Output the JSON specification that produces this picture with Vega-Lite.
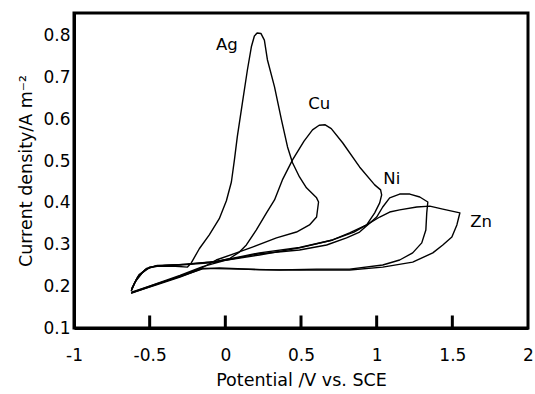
{
  "$schema": "https://vega.github.io/schema/vega-lite/v6.json",
  "autosize": "none",
  "width": 454,
  "height": 315,
  "padding": {"left": 74, "top": 13, "right": 7, "bottom": 66},
  "background": "white",
  "config": {
    "view": {"stroke": "black", "strokeWidth": 3},
    "font": "DejaVu Sans",
    "axis": {"domainColor": "black", "domainWidth": 3, "grid": false, "labelColor": "black", "titleColor": "black", "labelFont": "DejaVu Sans", "titleFont": "DejaVu Sans", "labelFontSize": 17, "titleFontSize": 17.5, "titleFontWeight": "normal"}
  },
  "datasets": {
    "cv": [
      {"m": "Ag", "i": 1, "V": -0.623, "I": 0.188},
      {"m": "Ag", "i": 2, "V": -0.6, "I": 0.208},
      {"m": "Ag", "i": 3, "V": -0.55, "I": 0.232},
      {"m": "Ag", "i": 4, "V": -0.5, "I": 0.245},
      {"m": "Ag", "i": 5, "V": -0.45, "I": 0.248},
      {"m": "Ag", "i": 6, "V": -0.33, "I": 0.248},
      {"m": "Ag", "i": 7, "V": -0.25, "I": 0.246},
      {"m": "Ag", "i": 8, "V": -0.225, "I": 0.256},
      {"m": "Ag", "i": 9, "V": -0.172, "I": 0.29},
      {"m": "Ag", "i": 10, "V": -0.106, "I": 0.323},
      {"m": "Ag", "i": 11, "V": -0.04, "I": 0.362},
      {"m": "Ag", "i": 12, "V": 0.007, "I": 0.405},
      {"m": "Ag", "i": 13, "V": 0.04, "I": 0.45},
      {"m": "Ag", "i": 14, "V": 0.06, "I": 0.503},
      {"m": "Ag", "i": 15, "V": 0.079, "I": 0.558},
      {"m": "Ag", "i": 16, "V": 0.113, "I": 0.64},
      {"m": "Ag", "i": 17, "V": 0.146, "I": 0.719},
      {"m": "Ag", "i": 18, "V": 0.172, "I": 0.774},
      {"m": "Ag", "i": 19, "V": 0.192, "I": 0.8},
      {"m": "Ag", "i": 20, "V": 0.21, "I": 0.807},
      {"m": "Ag", "i": 21, "V": 0.235, "I": 0.806},
      {"m": "Ag", "i": 22, "V": 0.258, "I": 0.79},
      {"m": "Ag", "i": 23, "V": 0.278, "I": 0.743},
      {"m": "Ag", "i": 24, "V": 0.325, "I": 0.678},
      {"m": "Ag", "i": 25, "V": 0.371, "I": 0.599},
      {"m": "Ag", "i": 26, "V": 0.411, "I": 0.534},
      {"m": "Ag", "i": 27, "V": 0.444, "I": 0.496},
      {"m": "Ag", "i": 28, "V": 0.49, "I": 0.462},
      {"m": "Ag", "i": 29, "V": 0.536, "I": 0.436},
      {"m": "Ag", "i": 30, "V": 0.603, "I": 0.412},
      {"m": "Ag", "i": 31, "V": 0.616, "I": 0.402},
      {"m": "Ag", "i": 32, "V": 0.603, "I": 0.366},
      {"m": "Ag", "i": 33, "V": 0.556, "I": 0.347},
      {"m": "Ag", "i": 34, "V": 0.47, "I": 0.33},
      {"m": "Ag", "i": 35, "V": 0.338, "I": 0.316},
      {"m": "Ag", "i": 36, "V": 0.179, "I": 0.294},
      {"m": "Ag", "i": 37, "V": 0.073, "I": 0.28},
      {"m": "Ag", "i": 38, "V": -0.06, "I": 0.263},
      {"m": "Ag", "i": 39, "V": -0.15, "I": 0.245},
      {"m": "Ag", "i": 40, "V": -0.3, "I": 0.224},
      {"m": "Ag", "i": 41, "V": -0.45, "I": 0.205},
      {"m": "Ag", "i": 42, "V": -0.6, "I": 0.186},
      {"m": "Ag", "i": 43, "V": -0.623, "I": 0.183},

      {"m": "Cu", "i": 1, "V": -0.62, "I": 0.19},
      {"m": "Cu", "i": 2, "V": -0.59, "I": 0.215},
      {"m": "Cu", "i": 3, "V": -0.53, "I": 0.24},
      {"m": "Cu", "i": 4, "V": -0.46, "I": 0.249},
      {"m": "Cu", "i": 5, "V": -0.3, "I": 0.251},
      {"m": "Cu", "i": 6, "V": -0.1, "I": 0.256},
      {"m": "Cu", "i": 7, "V": 0.026, "I": 0.266},
      {"m": "Cu", "i": 8, "V": 0.093, "I": 0.282},
      {"m": "Cu", "i": 9, "V": 0.139, "I": 0.299},
      {"m": "Cu", "i": 10, "V": 0.205, "I": 0.335},
      {"m": "Cu", "i": 11, "V": 0.272, "I": 0.376},
      {"m": "Cu", "i": 12, "V": 0.325, "I": 0.407},
      {"m": "Cu", "i": 13, "V": 0.377, "I": 0.455},
      {"m": "Cu", "i": 14, "V": 0.444, "I": 0.503},
      {"m": "Cu", "i": 15, "V": 0.52, "I": 0.548},
      {"m": "Cu", "i": 16, "V": 0.576, "I": 0.575},
      {"m": "Cu", "i": 17, "V": 0.62, "I": 0.586},
      {"m": "Cu", "i": 18, "V": 0.66, "I": 0.587},
      {"m": "Cu", "i": 19, "V": 0.7, "I": 0.578},
      {"m": "Cu", "i": 20, "V": 0.775, "I": 0.544},
      {"m": "Cu", "i": 21, "V": 0.887, "I": 0.486},
      {"m": "Cu", "i": 22, "V": 0.987, "I": 0.443},
      {"m": "Cu", "i": 23, "V": 1.026, "I": 0.431},
      {"m": "Cu", "i": 24, "V": 1.033, "I": 0.419},
      {"m": "Cu", "i": 25, "V": 1.02, "I": 0.4},
      {"m": "Cu", "i": 26, "V": 0.987, "I": 0.376},
      {"m": "Cu", "i": 27, "V": 0.934, "I": 0.347},
      {"m": "Cu", "i": 28, "V": 0.821, "I": 0.328},
      {"m": "Cu", "i": 29, "V": 0.709, "I": 0.311},
      {"m": "Cu", "i": 30, "V": 0.49, "I": 0.292},
      {"m": "Cu", "i": 31, "V": 0.225, "I": 0.275},
      {"m": "Cu", "i": 32, "V": 0.0, "I": 0.262},
      {"m": "Cu", "i": 33, "V": -0.15, "I": 0.247},
      {"m": "Cu", "i": 34, "V": -0.3, "I": 0.226},
      {"m": "Cu", "i": 35, "V": -0.45, "I": 0.207},
      {"m": "Cu", "i": 36, "V": -0.62, "I": 0.185},

      {"m": "Ni", "i": 1, "V": -0.62, "I": 0.192},
      {"m": "Ni", "i": 2, "V": -0.58, "I": 0.222},
      {"m": "Ni", "i": 3, "V": -0.52, "I": 0.243},
      {"m": "Ni", "i": 4, "V": -0.45, "I": 0.25},
      {"m": "Ni", "i": 5, "V": -0.3, "I": 0.252},
      {"m": "Ni", "i": 6, "V": -0.1, "I": 0.258},
      {"m": "Ni", "i": 7, "V": 0.007, "I": 0.263},
      {"m": "Ni", "i": 8, "V": 0.225, "I": 0.278},
      {"m": "Ni", "i": 9, "V": 0.49, "I": 0.287},
      {"m": "Ni", "i": 10, "V": 0.669, "I": 0.299},
      {"m": "Ni", "i": 11, "V": 0.801, "I": 0.316},
      {"m": "Ni", "i": 12, "V": 0.887, "I": 0.33},
      {"m": "Ni", "i": 13, "V": 0.94, "I": 0.347},
      {"m": "Ni", "i": 14, "V": 1.0, "I": 0.366},
      {"m": "Ni", "i": 15, "V": 1.04, "I": 0.39},
      {"m": "Ni", "i": 16, "V": 1.086, "I": 0.412},
      {"m": "Ni", "i": 17, "V": 1.152, "I": 0.421},
      {"m": "Ni", "i": 18, "V": 1.219, "I": 0.421},
      {"m": "Ni", "i": 19, "V": 1.285, "I": 0.414},
      {"m": "Ni", "i": 20, "V": 1.338, "I": 0.402},
      {"m": "Ni", "i": 21, "V": 1.331, "I": 0.376},
      {"m": "Ni", "i": 22, "V": 1.325, "I": 0.335},
      {"m": "Ni", "i": 23, "V": 1.298, "I": 0.304},
      {"m": "Ni", "i": 24, "V": 1.238, "I": 0.28},
      {"m": "Ni", "i": 25, "V": 1.152, "I": 0.263},
      {"m": "Ni", "i": 26, "V": 1.04, "I": 0.251},
      {"m": "Ni", "i": 27, "V": 0.821, "I": 0.241},
      {"m": "Ni", "i": 28, "V": 0.603, "I": 0.241},
      {"m": "Ni", "i": 29, "V": 0.358, "I": 0.239},
      {"m": "Ni", "i": 30, "V": 0.093, "I": 0.241},
      {"m": "Ni", "i": 31, "V": -0.15, "I": 0.243},
      {"m": "Ni", "i": 32, "V": -0.3, "I": 0.222},
      {"m": "Ni", "i": 33, "V": -0.45, "I": 0.204},
      {"m": "Ni", "i": 34, "V": -0.62, "I": 0.184},

      {"m": "Zn", "i": 1, "V": -0.62, "I": 0.194},
      {"m": "Zn", "i": 2, "V": -0.57, "I": 0.228},
      {"m": "Zn", "i": 3, "V": -0.5, "I": 0.246},
      {"m": "Zn", "i": 4, "V": -0.4, "I": 0.25},
      {"m": "Zn", "i": 5, "V": -0.25, "I": 0.253},
      {"m": "Zn", "i": 6, "V": -0.05, "I": 0.26},
      {"m": "Zn", "i": 7, "V": 0.225, "I": 0.28},
      {"m": "Zn", "i": 8, "V": 0.49, "I": 0.293},
      {"m": "Zn", "i": 9, "V": 0.709, "I": 0.311},
      {"m": "Zn", "i": 10, "V": 0.85, "I": 0.33},
      {"m": "Zn", "i": 11, "V": 0.934, "I": 0.347},
      {"m": "Zn", "i": 12, "V": 1.02, "I": 0.366},
      {"m": "Zn", "i": 13, "V": 1.086, "I": 0.378},
      {"m": "Zn", "i": 14, "V": 1.152, "I": 0.383},
      {"m": "Zn", "i": 15, "V": 1.265, "I": 0.39},
      {"m": "Zn", "i": 16, "V": 1.351, "I": 0.392},
      {"m": "Zn", "i": 17, "V": 1.437, "I": 0.385},
      {"m": "Zn", "i": 18, "V": 1.55, "I": 0.376},
      {"m": "Zn", "i": 19, "V": 1.543, "I": 0.366},
      {"m": "Zn", "i": 20, "V": 1.53, "I": 0.347},
      {"m": "Zn", "i": 21, "V": 1.497, "I": 0.318},
      {"m": "Zn", "i": 22, "V": 1.437, "I": 0.299},
      {"m": "Zn", "i": 23, "V": 1.371, "I": 0.28},
      {"m": "Zn", "i": 24, "V": 1.238, "I": 0.258},
      {"m": "Zn", "i": 25, "V": 1.04, "I": 0.246},
      {"m": "Zn", "i": 26, "V": 0.821, "I": 0.239},
      {"m": "Zn", "i": 27, "V": 0.49, "I": 0.239},
      {"m": "Zn", "i": 28, "V": 0.225, "I": 0.24},
      {"m": "Zn", "i": 29, "V": -0.04, "I": 0.244},
      {"m": "Zn", "i": 30, "V": -0.15, "I": 0.242},
      {"m": "Zn", "i": 31, "V": -0.3, "I": 0.223},
      {"m": "Zn", "i": 32, "V": -0.45, "I": 0.206},
      {"m": "Zn", "i": 33, "V": -0.62, "I": 0.186}
    ],
    "labels": [
      {"t": "Ag", "V": 0.01, "I": 0.779},
      {"t": "Cu", "V": 0.62, "I": 0.637},
      {"t": "Ni", "V": 1.1, "I": 0.458},
      {"t": "Zn", "V": 1.69, "I": 0.354}
    ],
    "ticks": [
      {"V": -0.5, "y0": 0.1, "y1": 0.13},
      {"V": 0, "y0": 0.1, "y1": 0.13},
      {"V": 0.5, "y0": 0.1, "y1": 0.13},
      {"V": 1, "y0": 0.1, "y1": 0.13},
      {"V": 1.5, "y0": 0.1, "y1": 0.13}
    ]
  },
  "layer": [
    {
      "data": {"name": "cv"},
      "mark": {"type": "line", "color": "black", "strokeWidth": 1.4, "interpolate": "linear", "strokeJoin": "round"},
      "encoding": {
        "x": {"field": "V", "type": "quantitative",
              "scale": {"domain": [-1, 2], "nice": false, "zero": false},
              "axis": {"title": "Potential /V vs. SCE", "values": [-1, -0.5, 0, 0.5, 1, 1.5, 2], "ticks": false, "labelPadding": 19, "titlePadding": 8, "labelFlush": false, "labelExpr": "datum.value < 0 ? '-' + format(-datum.value, '~g') : format(datum.value, '~g')"}},
        "y": {"field": "I", "type": "quantitative",
              "scale": {"domain": [0.1, 0.855], "nice": false, "zero": false},
              "axis": {"title": "Current density/A m⁻²", "values": [0.1, 0.2, 0.3, 0.4, 0.5, 0.6, 0.7, 0.8], "ticks": false, "labelPadding": 4, "titlePadding": 7, "labelFlush": false, "format": ".1f"}},
        "detail": {"field": "m"},
        "order": {"field": "i", "type": "quantitative"}
      }
    },
    {
      "data": {"name": "ticks"},
      "mark": {"type": "rule", "color": "black", "strokeWidth": 3},
      "encoding": {
        "x": {"field": "V", "type": "quantitative"},
        "y": {"field": "y0", "type": "quantitative"},
        "y2": {"field": "y1"}
      }
    },
    {
      "data": {"name": "labels"},
      "mark": {"type": "text", "fontSize": 16.5, "color": "black", "font": "DejaVu Sans"},
      "encoding": {
        "x": {"field": "V", "type": "quantitative"},
        "y": {"field": "I", "type": "quantitative"},
        "text": {"field": "t"}
      }
    }
  ]
}
